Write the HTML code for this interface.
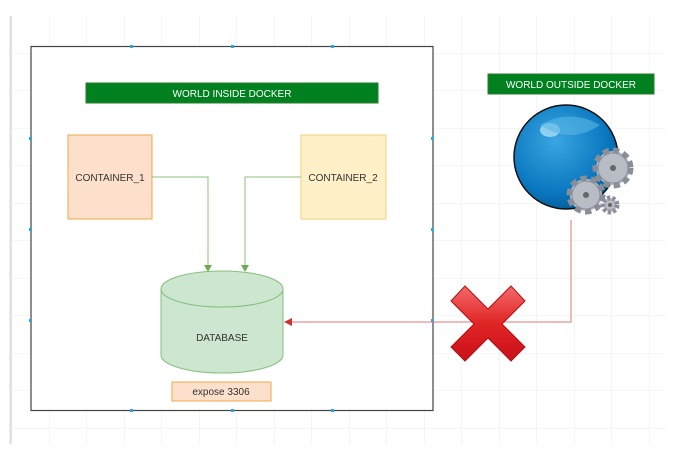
<!DOCTYPE html>
<html><head><style>
body{margin:0;width:689px;height:448px;background:#fff;overflow:hidden;font-family:"Liberation Sans",sans-serif;}
</style></head><body>
<svg width="689" height="448" xmlns="http://www.w3.org/2000/svg" font-family="Liberation Sans, sans-serif">
<defs>
<pattern id="g" x="12" y="16" width="37.5" height="37.5" patternUnits="userSpaceOnUse">
<path d="M37.5 0V37.5M0 37.5H37.5" stroke="#ececec" stroke-width="1" fill="none"/>
</pattern>
<radialGradient id="gl" cx="0.4" cy="0.35" r="0.7"><stop offset="0" stop-color="#3aa5e0"/><stop offset="0.7" stop-color="#0a78c0"/><stop offset="1" stop-color="#065a95"/></radialGradient>
<linearGradient id="xr" x1="0" y1="0" x2="0" y2="1"><stop offset="0" stop-color="#f46a6a"/><stop offset="0.5" stop-color="#e02525"/><stop offset="1" stop-color="#c9101a"/></linearGradient>
</defs>
<rect x="10" y="16" width="656" height="428" fill="url(#g)"/>
<line x1="10.5" y1="16" x2="10.5" y2="444" stroke="#ddd" stroke-width="2"/>
<rect x="31" y="46.5" width="402" height="364" fill="#fff" stroke="#444" stroke-width="1.2"/>
<g fill="#29a8e0">
<rect x="130" y="45" width="3" height="3"/><rect x="231" y="45" width="3" height="3"/><rect x="331" y="45" width="3" height="3"/>
<rect x="130" y="409" width="3" height="3"/><rect x="231" y="409" width="3" height="3"/><rect x="331" y="409" width="3" height="3"/>
<rect x="29" y="137" width="3" height="3"/><rect x="29" y="228" width="3" height="3"/><rect x="29" y="319" width="3" height="3"/>
<rect x="431" y="137" width="3" height="3"/><rect x="431" y="228" width="3" height="3"/><rect x="431" y="319" width="3" height="3"/>
</g>
<rect x="86" y="83" width="292" height="20" fill="#00801e" stroke="#2d7d2d"/>
<text x="232" y="97" font-size="10" fill="#fff" text-anchor="middle">WORLD INSIDE DOCKER</text>
<rect x="68" y="135" width="84" height="84" fill="#fde0cb" stroke="#eda94a"/>
<text x="110" y="181" font-size="10" fill="#333" text-anchor="middle">CONTAINER_1</text>
<rect x="301" y="135" width="85" height="84" fill="#fff0c8" stroke="#f2d07e"/>
<text x="343" y="181" font-size="10" fill="#333" text-anchor="middle">CONTAINER_2</text>
<path d="M152 177H208V266M301 177H245V266" stroke="#8cc07a" fill="none"/>
<path d="M204 265L208 272L212 265ZM241 265L245 272L249 265Z" fill="#6aab58"/>
<path d="M161 289V355A61 18 0 0 0 283 355V289A61 18 0 0 0 161 289Z" fill="#cde6cf" stroke="#84c07b"/>
<path d="M161 289A61 18 0 0 0 283 289" fill="none" stroke="#84c07b"/>
<text x="222" y="341" font-size="10" fill="#333" text-anchor="middle">DATABASE</text>
<rect x="172" y="382" width="99" height="19" fill="#fde0cb" stroke="#eda94a"/>
<text x="221" y="395" font-size="10" fill="#333" text-anchor="middle">expose 3306</text>
<path d="M571 220V322H290" stroke="#dd7777" fill="none"/>
<path d="M292 318L284 322L292 326Z" fill="#cc3333"/>
<rect x="488" y="74" width="166" height="20" fill="#00801e" stroke="#2d7d2d"/>
<text x="571" y="88" font-size="10" fill="#fff" text-anchor="middle">WORLD OUTSIDE DOCKER</text>
<circle cx="566" cy="157" r="52" fill="url(#gl)" stroke="#111" stroke-width="1.5"/>
<ellipse cx="550" cy="130" rx="10" ry="7" fill="#8fd0f0"/>
<path d="M540 125Q570 108 600 125Q570 145 540 125Z" fill="#5ab7e6" opacity="0.6"/>
<g fill="#b8bcc5" stroke="#8a8e98">
<circle cx="613" cy="168" r="17" stroke-dasharray="6 4" stroke-width="7"/>
<circle cx="613" cy="168" r="15" stroke-width="1"/>
<circle cx="586" cy="195" r="16" stroke-dasharray="6 4" stroke-width="7"/>
<circle cx="586" cy="195" r="14" stroke-width="1"/>
<circle cx="610" cy="205" r="7" stroke-width="5" stroke-dasharray="3 2"/>
</g>
<g fill="#666"><circle cx="613" cy="168" r="3"/><circle cx="586" cy="195" r="3"/><circle cx="610" cy="205" r="2"/></g>
<path d="M451 301L465 286L488 309L511 286L525 301L502 324L525 347L511 361L488 338L465 361L451 347L474 324Z" fill="url(#xr)" stroke="#b01010" stroke-width="1"/>
</svg>
</body></html>
